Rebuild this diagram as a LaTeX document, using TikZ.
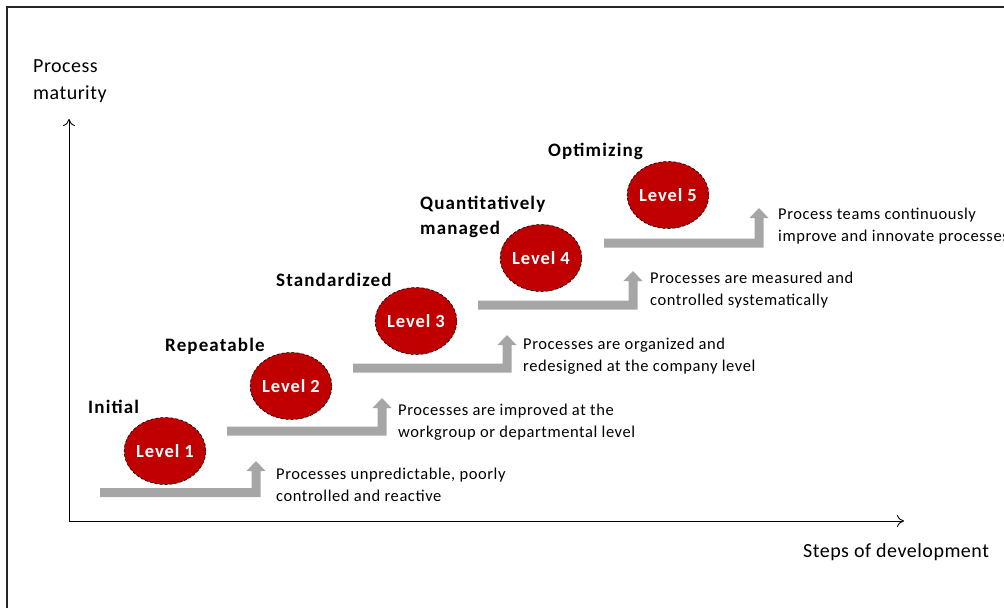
\documentclass[tikz,border=0pt]{standalone}
\usepackage{fontspec}
\setmainfont{Carlito}
\newfontfamily\descfont[LetterSpace=3.5]{Carlito}
\newfontfamily\ttlfont[LetterSpace=6]{Carlito}
\newfontfamily\lvlfont[LetterSpace=5]{Carlito}
\newfontfamily\axfont[LetterSpace=2.5]{Carlito}
\usetikzlibrary{shapes.geometric,arrows.meta}
\definecolor{lvred}{HTML}{C00000}
\definecolor{arrgray}{HTML}{A6A6A6}
\tikzset{
  lvl/.style={ellipse, fill=lvred, draw=black, densely dashed, line width=0.6pt,
    minimum width=77pt, minimum height=67pt, inner sep=0pt,
    text=white, font=\lvlfont\fontsize{18.5}{20}\selectfont\bfseries},
  desc/.style={anchor=west, align=left, inner sep=0pt,
    font=\descfont\fontsize{16.5}{22}\selectfont},
  ttl/.style={anchor=west, align=left, inner sep=0pt,
    font=\ttlfont\fontsize{19}{25}\selectfont\bfseries},
  axlab/.style={anchor=west, align=left, inner sep=0pt,
    font=\axfont\fontsize{20}{27}\selectfont},
  axis/.style={line width=0.9pt, -{To[length=7pt,width=12pt]}},
  bent/.style={fill=arrgray, draw=none}
}
\begin{document}
\begin{tikzpicture}[x=1pt,y=-1pt]
\useasboundingbox (0,0) rectangle (1004,608);
% frame
\draw[line width=1.4pt, draw=black!85] (7,608) -- (7,7) -- (1004,7);
% axes
\coordinate (O) at (69,521);
\coordinate (Ytop) at (69,119);
\coordinate (Xend) at (904,521);
\draw[axis] (O) -- (Ytop);
\draw[axis] (O) -- (Xend);
\node[axlab] (ylab) at (33,81) {Process\\maturity};
\node[axlab] (xlab) at (803,552) {Steps of development};
% bent arrows
\foreach \xo/\cy/\xc/\tip in {100/492.5/256/461, 227/431/382/398, 353/368/507/335, 478/305/633/271, 604/243/759/208}{
  \fill[bent] (\xo,\cy+4.5) -- (\xc+4.5,\cy+4.5) -- (\xc+4.5,\tip+10) -- (\xc+9.5,\tip+10)
    -- (\xc,\tip) -- (\xc-9.5,\tip+10) -- (\xc-4.5,\tip+10) -- (\xc-4.5,\cy-4.5)
    -- (\xo,\cy-4.5) -- cycle;
}
% levels
\node[lvl] (L1) at (165,451) {Level 1};
\node[lvl] (L2) at (291,386) {Level 2};
\node[lvl] (L3) at (416,321) {Level 3};
\node[lvl] (L4) at (541,258) {Level 4};
\node[lvl] (L5) at (668,195) {Level 5};
% titles
\node[ttl] (T1) at (88,407) {Initial};
\node[ttl] (T2) at (165,346) {Repeatable};
\node[ttl] (T3) at (276,280) {Standardized};
\node[ttl] (T4) at (420,216.5) {Quantitatively\\managed};
\node[ttl] (T5) at (548,151) {Optimizing};
% descriptions
\node[desc] (D1) at (276,485) {Processes unpredictable, poorly\\controlled and reactive};
\node[desc] (D2) at (398,422) {Processes are improved at the\\workgroup or departmental level};
\node[desc] (D3) at (523,356) {Processes are organized and\\redesigned at the company level};
\node[desc] (D4) at (650,290) {Processes are measured and\\controlled systematically};
\node[desc] (D5) at (778,226) {Process teams continuously\\improve and innovate processes};
\end{tikzpicture}
\end{document}
